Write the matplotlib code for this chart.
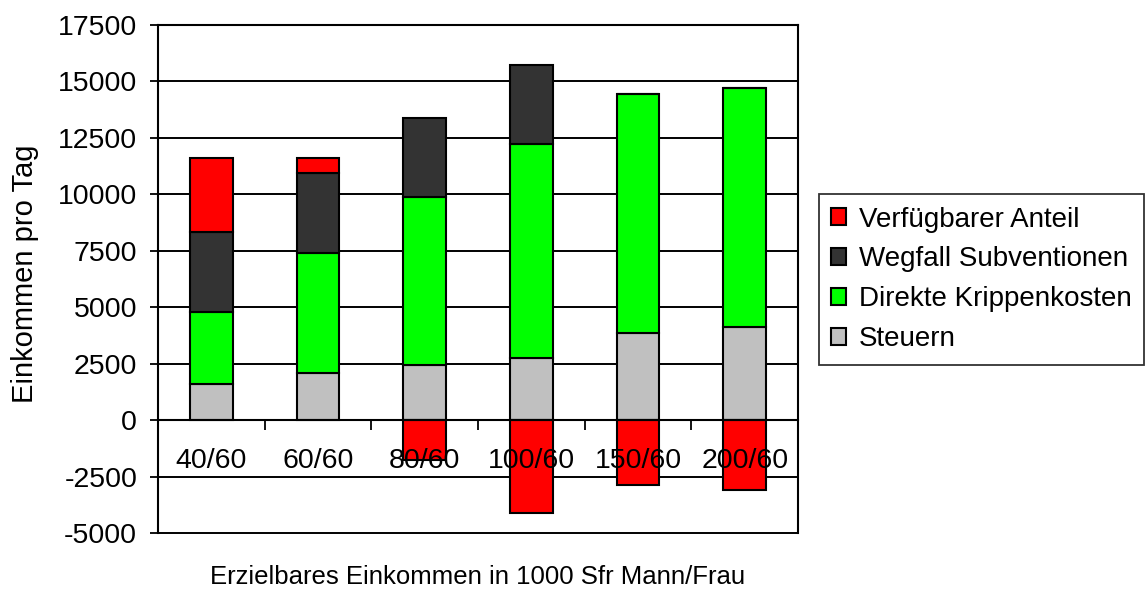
import numpy as np
import matplotlib.pyplot as plt

plt.rcParams['font.family'] = ['Liberation Sans', 'DejaVu Sans']

kategorien = ['40/60', '60/60', '80/60', '100/60', '150/60', '200/60']
steuern = [1590, 2090, 2460, 2740, 3855, 4120]
krippenkosten = [3220, 5310, 7420, 9470, 10600, 10585]
wegfall = [3520, 3550, 3510, 3515, 0, 0]
verfuegbar = [3285, 665, -1770, -4120, -2855, -3095]

serien = [
    ('Steuern', steuern, '#c0c0c0'),
    ('Direkte Krippenkosten', krippenkosten, '#00ff00'),
    ('Wegfall Subventionen', wegfall, '#333333'),
    ('Verfügbarer Anteil', verfuegbar, '#ff0000'),
]
y_ticks = list(range(-5000, 17501, 2500))


def graficar():
    fig = plt.figure(figsize=(11.45, 5.9), dpi=100)
    ax = fig.add_axes([0.138, 0.0966, 0.559, 0.861])

    x = np.arange(len(kategorien))
    pos = np.zeros(len(kategorien))
    neg = np.zeros(len(kategorien))
    handles = []
    for name, werte, farbe in serien:
        werte = np.array(werte, dtype=float)
        bottom = np.where(werte >= 0, pos, neg)
        b = ax.bar(x, werte, 0.4, bottom=bottom, color=farbe,
                   edgecolor='black', linewidth=1.5, label=name, zorder=2)
        handles.append(b)
        pos = pos + np.where(werte >= 0, werte, 0)
        neg = neg + np.where(werte < 0, werte, 0)

    ax.set_xlim(-0.5, len(kategorien) - 0.5)
    ax.set_ylim(-5000, 17500)
    ax.set_yticks(y_ticks)
    ax.set_yticklabels([str(t) for t in y_ticks], fontsize=20.5)
    ax.tick_params(axis='y', direction='out', length=6, width=1.3, pad=9)

    # Kategorienachse liegt auf der Nulllinie
    ax.spines['bottom'].set_position(('data', 0))
    ax.set_xticks(x[:-1] + 0.5)
    ax.set_xticklabels([])
    ax.tick_params(axis='x', which='major', direction='out', length=7, width=1.3)
    ax.set_xticks(x, minor=True)
    ax.set_xticklabels(kategorien, minor=True, fontsize=20.5)
    ax.tick_params(axis='x', which='minor', length=0, pad=20)

    for s in ax.spines.values():
        s.set_linewidth(1.5)
        s.set_color('black')

    ax.grid(True, axis='y', color='black', linewidth=1.4)
    ax.set_axisbelow(True)
    ax.xaxis.set_zorder(3)
    for gl in ax.get_ygridlines():
        gl.set_clip_on(False)

    ax.set_ylabel('Einkommen pro Tag', fontsize=21)
    ax.yaxis.set_label_coords(-0.186, 0.51)
    ax.set_xlabel('Erzielbares Einkommen in 1000 Sfr Mann/Frau', fontsize=18.5)
    ax.xaxis.set_label_coords(0.5, -0.062)

    leg = fig.legend(handles[::-1], [s[0] for s in serien][::-1],
                     loc='upper left', bbox_to_anchor=(0.715, 0.671),
                     fontsize=20, frameon=True, fancybox=False, shadow=False,
                     borderaxespad=0, handlelength=0.55, handleheight=0.55,
                     handletextpad=0.45, labelspacing=0.5, borderpad=0.45)
    leg.get_frame().set_edgecolor('black')
    leg.get_frame().set_linewidth(1.3)

    plt.savefig('out.png', dpi=100)


if __name__ == "__main__":
    graficar()
